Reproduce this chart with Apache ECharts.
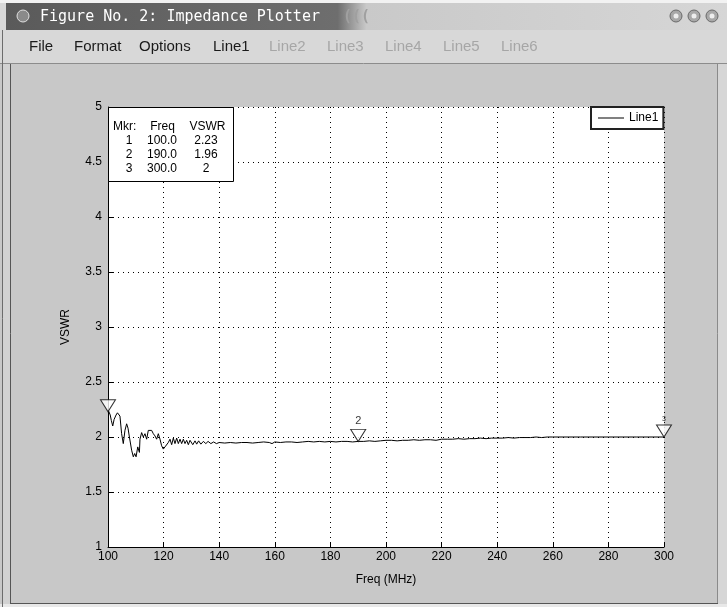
<!DOCTYPE html>
<html><head><meta charset="utf-8">
<script src="https://cdn.jsdelivr.net/npm/echarts@6/dist/echarts.min.js"></script>
<style>html,body{margin:0;padding:0;background:#c8c8c8;}#c{width:727px;height:607px;}</style>
</head><body><div id="c"></div>
<script>
// ---- data ----
const titleText = 'Figure No. 2: Impedance Plotter';
const menuItems = ['File', 'Format', 'Options', 'Line1', 'Line2', 'Line3', 'Line4', 'Line5', 'Line6'];
const menuEnabled = [true, true, true, true, false, false, false, false, false];
const seriesName = 'Line1';
const xName = 'Freq (MHz)';
const yName = 'VSWR';
const freq = [100.0,100.4,100.8,101.2,101.7,102.2,102.9,103.4,103.7,104.3,104.9,105.5,106.1,106.7,107.2,107.7,108.5,109.1,109.6,110.1,110.7,111.3,111.5,112.1,112.7,113.3,113.9,114.5,115.1,115.7,116.3,116.9,117.5,118.1,118.7,119.3,119.9,120.5,121.1,121.7,122.3,122.9,123.5,124.1,124.7,125.3,125.9,126.5,127.1,127.7,128.3,128.9,129.5,130.5,131.3,131.9,132.6,133.4,134.3,135.2,136.0,137.0,138.0,139.0,140.0,142,144,146,148,150,152,154,156,158,159,160,162,164,166,168,170,172,174,176,178,180,182,184,186,188,190,192,194,196,198,200,202,204,206,208,210,212,214,216,218,220,222,224,226,228,230,232,234,236,238,240,242,244,246,248,250,252,254,256,258,260,270,280,290,300];
const vswr = [2.25,2.26,2.20,2.15,2.10,2.16,2.20,2.22,2.21,2.19,2.03,1.94,2.06,2.12,2.08,2.00,1.88,1.82,1.85,1.82,1.91,1.86,1.98,2.04,2.00,2.03,1.98,2.06,2.07,2.06,2.03,2.01,1.98,2.03,1.98,1.92,1.89,1.91,1.92,1.95,1.98,1.93,1.99,1.94,1.99,1.94,1.98,1.94,1.98,1.94,1.97,1.93,1.97,1.93,1.965,1.935,1.965,1.935,1.96,1.94,1.96,1.94,1.955,1.94,1.95,1.945,1.95,1.945,1.95,1.95,1.945,1.95,1.955,1.95,1.94,1.955,1.95,1.955,1.955,1.95,1.955,1.96,1.955,1.96,1.955,1.96,1.955,1.96,1.96,1.955,1.96,1.96,1.965,1.96,1.965,1.97,1.97,1.965,1.97,1.97,1.975,1.97,1.975,1.975,1.97,1.98,1.98,1.98,1.985,1.98,1.985,1.985,1.99,1.985,1.99,1.99,1.99,1.995,1.99,1.995,1.995,1.995,2.0,1.995,2.0,2.0,2.0,2.0,2.0,2.0];
const markerIds = ['1', '2', '3'];
const markerFreq = [100.0, 190.0, 300.0];
const markerVswr = [2.23, 1.96, 2];
const markerFreqText = ['100.0', '190.0', '300.0'];
const markerVswrText = ['2.23', '1.96', '2'];
const tableHeader = ['Mkr:', 'Freq', 'VSWR'];
const xMin = 100, xMax = 300, xStep = 20;
const yMin = 1, yMax = 5, yStep = 0.5;

// ---- chart ----
const chart = echarts.init(document.getElementById('c'), null, {renderer: 'canvas'});
const FONT = 'Liberation Sans, Arial, Helvetica, sans-serif';

const menuX = [29, 74, 139, 213, 269, 327, 385, 443, 501];

const graphics = [];
// window chrome
graphics.push({type: 'rect', z: -10, shape: {x: 0, y: 0, width: 727, height: 64}, style: {fill: '#d8d8d8'}});
graphics.push({type: 'rect', z: -9, shape: {x: 0, y: 0, width: 727, height: 3}, style: {fill: '#f2f2f2'}});
graphics.push({type: 'rect', z: -9, shape: {x: 6, y: 3, width: 721, height: 27},
  style: {fill: new echarts.graphic.LinearGradient(0, 0, 1, 0, [
    {offset: 0, color: '#5a5a5a'}, {offset: 0.46, color: '#6e6e6e'}, {offset: 0.5, color: '#c9c9c9'}, {offset: 1, color: '#d6d6d6'}])}});
graphics.push({type: 'circle', z: -8, shape: {cx: 23, cy: 16, r: 6}, style: {fill: '#8a8a8a', stroke: '#e0e0e0', lineWidth: 1}});
graphics.push({type: 'text', z: -7, x: 40, y: 17, style: {text: titleText, fill: '#ffffff', font: '15px "DejaVu Sans Mono", monospace', verticalAlign: 'middle'}});
graphics.push({type: 'text', z: -7, x: 343, y: 17, style: {text: '(((', fill: '#a0a0a0', font: 'bold 15px "DejaVu Sans Mono", monospace', verticalAlign: 'middle'}});
[676, 694, 712].forEach(cx => {
  graphics.push({type: 'circle', z: -8, shape: {cx: cx, cy: 16, r: 6}, style: {fill: '#a8a8a8', stroke: '#6a6a6a', lineWidth: 1}});
  graphics.push({type: 'circle', z: -7, shape: {cx: cx, cy: 16, r: 2.5}, style: {fill: '#eeeeee'}});
});
graphics.push({type: 'line', z: -8, shape: {x1: 0, y1: 63.5, x2: 727, y2: 63.5}, style: {stroke: '#8c8c8c', lineWidth: 1}});
graphics.push({type: 'line', z: -8, shape: {x1: 2.5, y1: 30, x2: 2.5, y2: 607}, style: {stroke: '#6c6c6c', lineWidth: 1}});
graphics.push({type: 'line', z: -8, shape: {x1: 10.5, y1: 64, x2: 10.5, y2: 603}, style: {stroke: '#555555', lineWidth: 1}});
graphics.push({type: 'rect', z: -9, shape: {x: 3, y: 64, width: 7, height: 543}, style: {fill: '#d2d2d2'}});
graphics.push({type: 'line', z: -8, shape: {x1: 717.5, y1: 64, x2: 717.5, y2: 603}, style: {stroke: '#8a8a8a', lineWidth: 1}});
graphics.push({type: 'rect', z: -9, shape: {x: 718, y: 64, width: 9, height: 543}, style: {fill: '#d6d6d6'}});
graphics.push({type: 'line', z: -8, shape: {x1: 10, y1: 603.5, x2: 718, y2: 603.5}, style: {stroke: '#555555', lineWidth: 1}});
graphics.push({type: 'rect', z: -9, shape: {x: 0, y: 604, width: 727, height: 3}, style: {fill: '#e8e8e8'}});

// menu
menuItems.forEach((m, i) => {
  const en = menuEnabled[i];
  graphics.push({type: 'text', z: -6, x: menuX[i], y: 47, style: {text: m, fill: en ? '#1a1a1a' : '#a6a6a6', font: '15px ' + FONT, verticalAlign: 'middle'}});
});

// marker table
const tb = {x: 108, y: 107, w: 125, h: 74};
graphics.push({type: 'rect', z: 20, shape: {x: tb.x + 0.5, y: tb.y + 0.5, width: tb.w, height: tb.h}, style: {fill: '#ffffff', stroke: '#000000', lineWidth: 1}});
const colX = [113, 162.5, 207.5];
graphics.push({type: 'text', z: 21, x: colX[0], y: 127, style: {text: tableHeader[0], fill: '#000', font: '12px ' + FONT, verticalAlign: 'middle', align: 'left'}});
graphics.push({type: 'text', z: 21, x: colX[1], y: 127, style: {text: tableHeader[1], fill: '#000', font: '12px ' + FONT, verticalAlign: 'middle', align: 'center'}});
graphics.push({type: 'text', z: 21, x: colX[2], y: 127, style: {text: tableHeader[2], fill: '#000', font: '12px ' + FONT, verticalAlign: 'middle', align: 'center'}});
markerIds.forEach((id, i) => {
  const yy = 141 + i * 14;
  graphics.push({type: 'text', z: 21, x: 129, y: yy, style: {text: id, fill: '#000', font: '12px ' + FONT, verticalAlign: 'middle', align: 'center'}});
  graphics.push({type: 'text', z: 21, x: 162, y: yy, style: {text: markerFreqText[i], fill: '#000', font: '12px ' + FONT, verticalAlign: 'middle', align: 'center'}});
  graphics.push({type: 'text', z: 21, x: 206, y: yy, style: {text: markerVswrText[i], fill: '#000', font: '12px ' + FONT, verticalAlign: 'middle', align: 'center'}});
});

const lineData = freq.map((f, i) => [f, vswr[i]]);
const markerData = markerFreq.map((f, i) => ({
  value: [f, markerVswr[i]],
  label: {show: i > 0, formatter: markerIds[i], fontSize: i === 2 ? 7 : 11}
}));

chart.setOption({
  animation: false,
  backgroundColor: '#c8c8c8',
  textStyle: {fontFamily: FONT},
  graphic: {elements: graphics},
  grid: {left: 108, top: 107, width: 556, height: 440, show: true, backgroundColor: '#ffffff', borderWidth: 0, containLabel: false},
  legend: {
    show: true, left: 591, top: 107, orient: 'horizontal',
    data: [{name: seriesName, icon: 'rect'}],
    itemWidth: 26, itemHeight: 1, itemGap: 0,
    padding: [5, 5, 5, 7],
    backgroundColor: '#ffffff', borderColor: '#222222', borderWidth: 2,
    textStyle: {fontSize: 12, color: '#000', fontFamily: FONT},
    z: 20
  },
  xAxis: {
    type: 'value', min: xMin, max: xMax, interval: xStep,
    name: xName, nameLocation: 'middle', nameGap: 27,
    nameTextStyle: {fontSize: 12, color: '#000', fontFamily: FONT},
    axisLine: {show: true, lineStyle: {color: '#000', width: 1}},
    axisTick: {show: true, inside: true, length: 5, lineStyle: {color: '#000'}},
    axisLabel: {fontSize: 12, color: '#000', margin: 4, fontFamily: FONT},
    splitLine: {show: true, lineStyle: {color: '#000', type: [1, 4], width: 1}}
  },
  yAxis: {
    type: 'value', min: yMin, max: yMax, interval: yStep,
    name: yName, nameLocation: 'middle', nameGap: 36, nameRotate: 90,
    nameTextStyle: {fontSize: 12, color: '#000', fontFamily: FONT},
    axisLine: {show: true, lineStyle: {color: '#000', width: 1}},
    axisTick: {show: true, inside: true, length: 5, lineStyle: {color: '#000'}},
    axisLabel: {fontSize: 12, color: '#000', margin: 6, fontFamily: FONT},
    splitLine: {show: true, lineStyle: {color: '#000', type: [1, 4], width: 1}}
  },
  series: [
    {
      name: seriesName, type: 'line', data: lineData, symbol: 'none', showSymbol: false,
      lineStyle: {color: '#000', width: 1}, itemStyle: {color: '#000'}, z: 3, silent: true
    },
    {
      name: 'markers', type: 'scatter', data: markerData, clip: false,
      symbol: 'path://M0,0 L16,0 L8,13 Z', symbolSize: [15, 12], symbolOffset: [0, -6],
      itemStyle: {color: '#ffffff', borderColor: '#000', borderWidth: 1},
      label: {show: true, position: 'top', distance: 2, color: '#000', fontFamily: FONT},
      z: 4, silent: true
    }
  ]
});
</script></body></html>
